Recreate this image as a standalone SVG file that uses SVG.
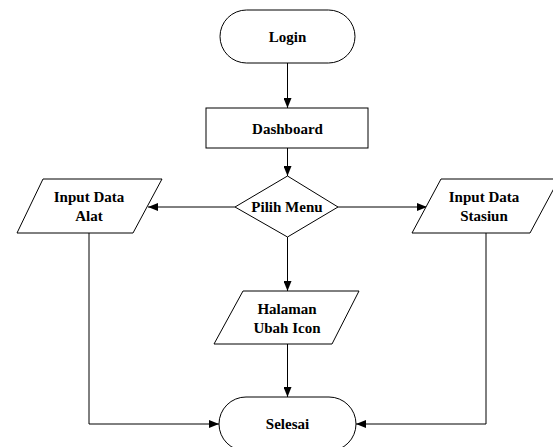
<svg xmlns="http://www.w3.org/2000/svg" width="553" height="447" viewBox="0 0 553 447">
<style>
.s{fill:#fff;stroke:#000;stroke-width:1}
.t{font-family:'Liberation Serif','Times New Roman',serif;font-weight:bold;font-size:15px;text-anchor:middle;fill:#000}
.c{fill:none;stroke:#000;stroke-width:1}
</style>
<defs>
<marker id="a" markerWidth="10" markerHeight="8" refX="10" refY="4" orient="auto" markerUnits="userSpaceOnUse">
<path d="M0,0 L10,4 L0,8 Z" fill="#000"/>
</marker>
</defs>
<rect width="553" height="447" fill="#fff"/>
<g id="connectors">
<path class="c" d="M287.5,63 V108" marker-end="url(#a)"/>
<path class="c" d="M287.5,148 V176" marker-end="url(#a)"/>
<path class="c" d="M235,207 H148" marker-end="url(#a)"/>
<path class="c" d="M338,207 H427" marker-end="url(#a)"/>
<path class="c" d="M287.5,237 V291" marker-end="url(#a)"/>
<path class="c" d="M287.5,344 V397" marker-end="url(#a)"/>
<path class="c" d="M89,233 V424 H219" marker-end="url(#a)"/>
<path class="c" d="M486,233 V424 H356" marker-end="url(#a)"/>
</g>
<g id="login">
<rect class="s" x="220" y="10" width="135" height="53" rx="26.5"/>
<text class="t" x="287.5" y="42">Login</text>
</g>
<g id="dashboard">
<rect class="s" x="206" y="108" width="162" height="40"/>
<text class="t" x="287.5" y="134">Dashboard</text>
</g>
<g id="pilih">
<polygon class="s" points="287.5,176 338,207 287.5,237 235,207"/>
<text class="t" x="287" y="212">Pilih Menu</text>
</g>
<g id="alat">
<polygon class="s" points="43,179 162,179 133,233 17,233"/>
<text class="t" x="89" y="202">Input Data</text>
<text class="t" x="89" y="221">Alat</text>
</g>
<g id="stasiun">
<polygon class="s" points="441,179 559,179 530,233 412,233"/>
<text class="t" x="484" y="202">Input Data</text>
<text class="t" x="484" y="221">Stasiun</text>
</g>
<g id="halaman">
<polygon class="s" points="243,291 359,291 332,344 214,344"/>
<text class="t" x="287" y="314">Halaman</text>
<text class="t" x="287" y="333">Ubah Icon</text>
</g>
<g id="selesai">
<rect class="s" x="219" y="397" width="137" height="54" rx="27"/>
<text class="t" x="287.5" y="429">Selesai</text>
</g>
</svg>
